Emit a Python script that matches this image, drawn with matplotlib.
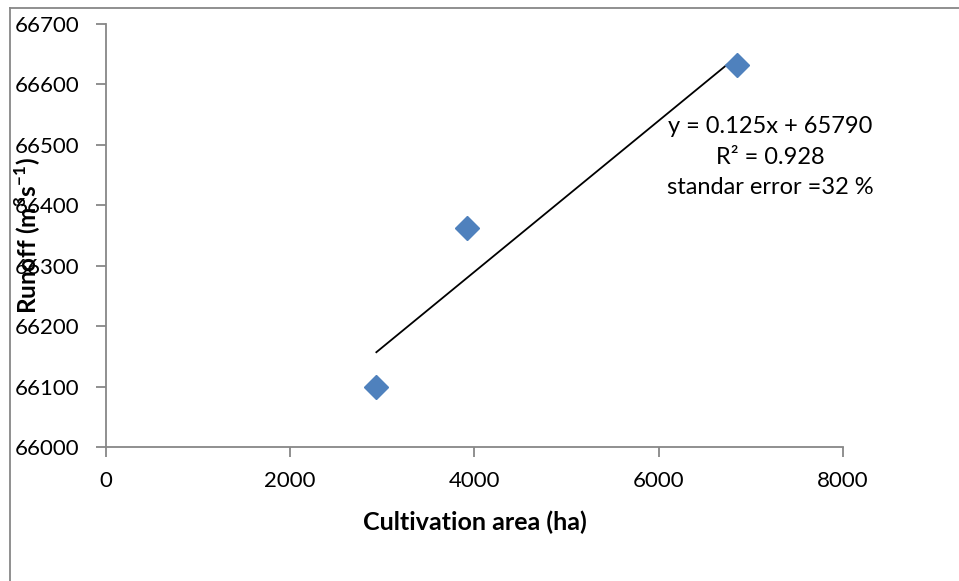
import matplotlib.pyplot as plt
from matplotlib.lines import Line2D

plt.rcParams['font.family'] = ['Lato', 'DejaVu Sans']
plt.rcParams['mathtext.fontset'] = 'custom'
plt.rcParams['mathtext.rm'] = 'Lato'
plt.rcParams['mathtext.bf'] = 'Lato:bold'

# Data
area = [2935, 3924, 6848]          # Cultivation area (ha)
runoff = [66100, 66363, 66632]     # Runoff (m3 s-1)
slope = 0.125
intercept = 65790
fit_label = 'y = 0.125x + 65790\nR² = 0.928\nstandar error =32 %'

x_ticks = [0, 2000, 4000, 6000, 8000]
y_ticks = [66000, 66100, 66200, 66300, 66400, 66500, 66600, 66700]

fig = plt.figure(figsize=(9.59, 5.81), dpi=100)
ax = fig.add_axes([0.1105, 0.2306, 0.7685, 0.7281])

# trendline across the range of the data
x_fit = [min(area), max(area)]
y_fit = [slope * x + intercept for x in x_fit]
ax.plot(x_fit, y_fit, color='black', lw=1.3, zorder=2)
ax.plot(area, runoff, linestyle='none', marker='D', ms=12.5,
        color='#4F81BD', zorder=3)

ax.set_xlim(0, 8000)
ax.set_ylim(66000, 66700)
ax.set_xticks(x_ticks)
ax.set_yticks(y_ticks)

gray = '#878787'
for side in ['top', 'right']:
    ax.spines[side].set_visible(False)
for side in ['left', 'bottom']:
    ax.spines[side].set_color(gray)
    ax.spines[side].set_linewidth(1.3)
ax.tick_params(direction='out', length=7, width=1.3, color=gray,
               labelsize=16)
ax.tick_params(axis='y', pad=12)
ax.tick_params(axis='x', pad=10)

ax.set_xlabel('Cultivation area (ha)', fontsize=18, fontweight='bold',
              labelpad=14)
# the label sits over the tick labels, as in the original
ax.set_ylabel(r'Runoff (m$^{\mathbf{3}}$s$^{\mathbf{-1}}$)', fontsize=17.5,
              fontweight='bold')
ax.yaxis.set_label_coords(-0.086, 0.499)

ax.text(770 / 959, 1 - 157 / 581, fit_label, transform=fig.transFigure,
        ha='center', va='center', fontsize=17, linespacing=1.55)

# outer chart frame (top and left edges visible)
fig.add_artist(Line2D([9.5 / 959, 1], [1 - 7.5 / 581] * 2,
                      transform=fig.transFigure, color=gray, lw=1.3))
fig.add_artist(Line2D([9.5 / 959] * 2, [0, 1 - 7.5 / 581],
                      transform=fig.transFigure, color=gray, lw=1.3))

fig.savefig('out.png', dpi=100)
